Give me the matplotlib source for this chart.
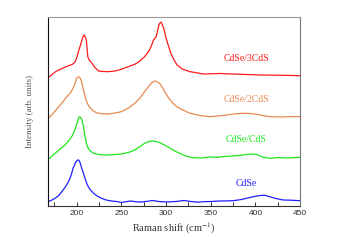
import matplotlib
matplotlib.use('Agg')
import matplotlib.pyplot as plt

# Raman spectra (intensity in arbitrary units, already offset)
cdse_x = [168, 172, 176, 180, 183.5, 187, 191, 194, 196, 198.5, 201, 202.5, 203.5, 205, 207,
          209.5, 212, 215, 219, 223, 228, 233, 239, 245, 250, 255, 260, 265, 270, 276,
          285, 292, 300, 308, 314, 320, 327, 335, 342, 350, 360, 368, 375, 383, 390,
          397, 403.5, 410, 416, 423, 431, 440, 450]
cdse_y = [4.3, 5.8, 7.7, 10.5, 14.3, 18.5, 24.3, 31, 37.7, 43, 46, 45.8, 44.3, 40, 34.3,
          27.5, 21, 16.5, 12.7, 10, 7.7, 6, 5, 4.5, 3.5, 4.2, 5, 4.4, 4, 4.3,
          5.5, 4.5, 4, 4.3, 4.8, 5.5, 4.6, 3.8, 4.3, 4.5, 5, 5.1, 5.3, 6.3, 7.7,
          9.2, 10.3, 10.8, 9.3, 7.5, 6, 5.8, 5.3]

cds1_x = [168, 172, 176, 181, 187, 191, 194.5, 197.5, 200, 201.5, 203, 204.5, 206, 208, 209.5,
          211, 213, 216, 219, 225, 232, 240, 250, 258, 265, 271, 276, 281, 285.5, 290,
          295, 300.5, 304, 308, 311, 315, 322, 330, 340, 348, 356, 365, 375, 385, 395,
          402, 408, 416, 425, 435, 450]
cds1_y = [46, 49.5, 52.7, 56.5, 61, 65, 69.3, 75, 81, 86, 89.3, 88.5, 86, 78, 69.3,
          62.5, 57.7, 54.5, 52.7, 51.5, 51, 51.3, 52, 53.5, 56, 59.5, 62.7, 64.5, 65, 64.3,
          62.5, 60, 58, 56, 54.5, 52.7, 50, 48.3, 48, 49, 48.7, 49.5, 50, 51, 52,
          51.5, 49, 47.7, 48.5, 48, 48.7]

cds2_x = [168.4, 172, 176, 180, 185, 189, 193, 196, 198, 200, 202, 203.5, 205, 207, 209.5,
          212, 215, 218, 222, 228, 235, 242, 250, 258, 265, 271, 276, 280, 283.5, 287,
          290, 293, 296, 299, 303, 308, 311, 318, 327, 338, 349, 358, 368, 378, 387,
          395, 401, 408, 416, 430, 440, 450]
cds2_y = [87.7, 91, 95, 99.3, 104.5, 109.3, 113, 117.7, 122, 127.7, 129.3, 128.5, 126, 119, 109.3,
          102.5, 98.3, 95.5, 93.3, 92.3, 92, 92.8, 94.3, 98, 102.7, 108, 114.3, 119, 122.7, 125,
          124.3, 122.5, 118.5, 113.5, 108, 102.5, 100, 96.3, 92.7, 90.5, 89.3, 90, 91, 92.3, 92.7,
          92.5, 91.7, 90.5, 89.3, 89, 89.5, 89.3]

cds3_x = [168, 172, 176, 180, 185, 191, 195, 198, 200, 202, 204, 206, 207.5, 208.5, 210,
          211, 212.5, 214, 217, 220, 224.5, 229, 235, 243, 250, 257, 265, 270, 276, 281,
          284, 286, 289, 290.5, 292, 293.5, 294.5, 296, 298, 300, 303, 305.5, 308, 312, 318,
          327, 342, 360, 375, 390, 405, 425, 450]
cds3_y = [128.3, 131, 134, 136, 138, 140.3, 141.5, 143.7, 148, 154.3, 160, 166, 170, 171, 168.5,
          165, 149.3, 146, 143, 139, 135, 134.5, 134.3, 135, 136.7, 139, 141.7, 144.5, 149.3, 155,
          161, 166, 169.3, 175, 181, 183.5, 183.7, 181, 176, 168, 159.3, 152.5, 147.7, 141.5, 137,
          134.3, 132, 132.5, 132, 131.5, 131, 130.8, 130.3]

names = ['CdSe', 'CdSe/CdS', 'CdSe/2CdS', 'CdSe/3CdS']
colors = ['#1f1fff', '#1ee61e', '#e8894f', '#ff1a1a']
label_y = [23, 66, 107, 148]

plt.rcParams['mathtext.fontset'] = 'stix'

fig = plt.figure(figsize=(3.38, 2.5), dpi=100)
ax = fig.add_axes([0.142, 0.176, 0.746, 0.756])

series = [(cdse_x, cdse_y), (cds1_x, cds1_y), (cds2_x, cds2_y), (cds3_x, cds3_y)]
for (xs, ys), name, c, ly in zip(series, names, colors, label_y):
    ax.plot(xs, ys, color=c, lw=0.9)
    ax.text(390, ly, name, color=c, fontsize=7, family='Liberation Serif',
            ha='center', va='center')

ax.set_xlim(168, 450)
ax.set_ylim(0, 189)
ax.set_yticks([])
ax.set_xticks([200, 250, 300, 350, 400, 450])
ax.set_xticks(range(175, 450, 50), minor=True)
ax.tick_params(axis='x', which='both', direction='in', length=3, width=0.7,
               labelsize=6, colors='#333333', pad=3)
for lab in ax.get_xticklabels():
    lab.set_family('Liberation Sans')

ax.spines['left'].set_color('#111111')
ax.spines['bottom'].set_color('#333333')
ax.spines['right'].set_color('#777777')
ax.spines['top'].set_color('#999999')
for s in ax.spines.values():
    s.set_linewidth(0.8)

ax.set_xlabel(r'Raman shift (cm$^{-1}$)', fontsize=7.5, family='Liberation Serif',
              color='#333333', labelpad=3)
ax.set_ylabel('Intensity (arb. units)', fontsize=6.4, family='Liberation Serif',
              color='#555555', labelpad=10)

fig.savefig('out.png', dpi=100)
